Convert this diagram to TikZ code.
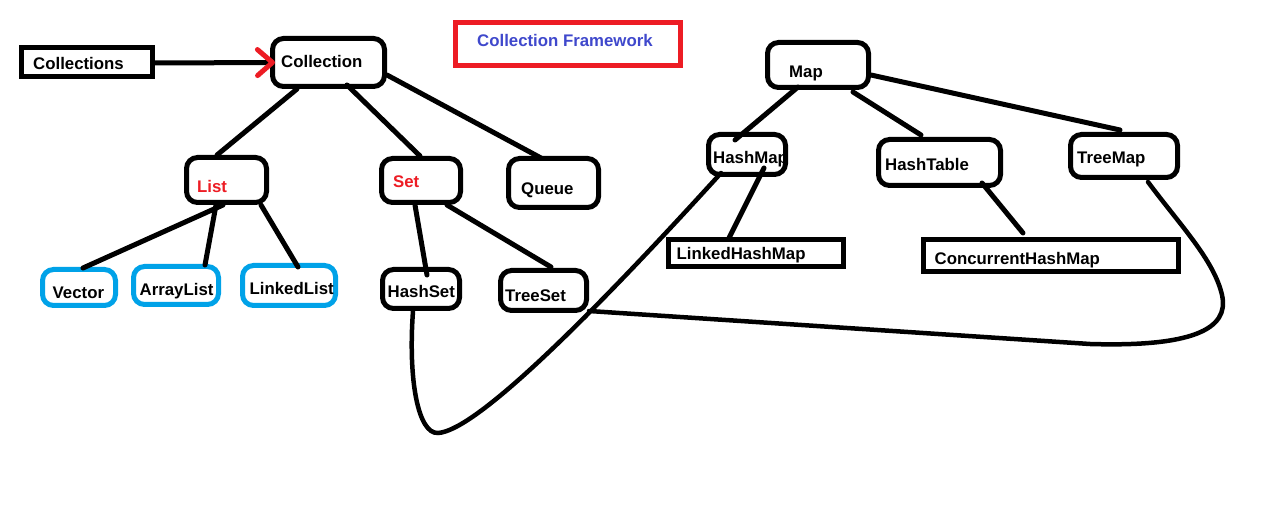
\documentclass[tikz,border=0pt]{standalone}
\usepackage{fontspec}
\setmainfont{Liberation Sans}
\usetikzlibrary{arrows.meta}
\definecolor{pred}{HTML}{ED1C24}
\definecolor{pblue}{HTML}{00A2E8}
\definecolor{pindigo}{HTML}{3F48CC}
\begin{document}
\begin{tikzpicture}[x=1pt,y=-1pt,
  box/.style={draw, line width=5pt, inner sep=0pt},
  rbox/.style={box, rounded corners=11pt},
  bbox/.style={rbox, draw=pblue},
  lbl/.style={anchor=base west, inner sep=0pt, font=\fontsize{16.8}{20}\selectfont\bfseries},
  conn/.style={line width=5pt, line cap=round},
  curve/.style={line width=4.5pt, line cap=round}]
\useasboundingbox[fill=white] (0,0) rectangle (1262,521);
% boxes
\node[box, minimum width=131pt, minimum height=29pt] (collections) at (87,62) {};
\node[rbox, minimum width=112pt, minimum height=48pt] (collection) at (328.5,62.5) {};
\node[box, draw=pred, minimum width=225pt, minimum height=43pt] (title) at (568,44) {};
\node[rbox, minimum width=80pt, minimum height=45pt] (list) at (226.5,180) {};
\node[rbox, minimum width=79pt, minimum height=44pt] (set) at (421,180.5) {};
\node[rbox, minimum width=90pt, minimum height=49pt] (queue) at (553.5,183) {};
\node[bbox, minimum width=73pt, minimum height=36pt] (vector) at (79,287.5) {};
\node[bbox, minimum width=85pt, minimum height=38pt] (arraylist) at (176,285.5) {};
\node[bbox, minimum width=93pt, minimum height=40pt] (linkedlist) at (289,285.5) {};
\node[rbox, minimum width=77pt, minimum height=39pt] (hashset) at (421,289) {};
\node[rbox, minimum width=86pt, minimum height=40pt] (treeset) at (543.5,290.5) {};
\node[rbox, minimum width=101pt, minimum height=45pt] (map) at (818,65) {};
\node[rbox, minimum width=77pt, minimum height=40pt] (hashmap) at (747,154.5) {};
\node[rbox, minimum width=122pt, minimum height=46pt] (hashtable) at (939.5,162.5) {};
\node[rbox, minimum width=107pt, minimum height=43pt] (treemap) at (1124,156) {};
\node[box, minimum width=175pt, minimum height=27pt] (lhm) at (756,253) {};
\node[box, minimum width=255pt, minimum height=32pt] (chm) at (1051,255.5) {};
% labels
\node[lbl] (tcollections) at (33,70) {Collections};
\node[lbl] (tcollection) at (281,67.5) {Collection};
\node[lbl, text=pindigo] (ttitle) at (477,46.7) {Collection Framework};
\node[lbl, text=pred] (tlist) at (197,192.5) {List};
\node[lbl, text=pred] (tset) at (393,188) {Set};
\node[lbl] (tqueue) at (521,195) {Queue};
\node[lbl] (tvector) at (52.5,298.3) {Vector};
\node[lbl] (tarraylist) at (139.5,296) {ArrayList};
\node[lbl] (tlinkedlist) at (249.5,295) {LinkedList};
\node[lbl] (thashset) at (387.5,298) {HashSet};
\node[lbl] (ttreeset) at (505,301.5) {TreeSet};
\node[lbl] (tmap) at (789,77.3) {Map};
\node[lbl] (thashmap) at (713,163.3) {HashMap};
\node[lbl] (thashtable) at (885,170.7) {HashTable};
\node[lbl] (ttreemap) at (1077,163.3) {TreeMap};
\node[lbl] (tlhm) at (676.5,259.3) {LinkedHashMap};
\node[lbl] (tchm) at (934.5,264.3) {ConcurrentHashMap};
% arrow
\draw[line width=5pt, -{Straight Barb[length=15pt,width=26pt,color=pred,line cap=round,line join=round]}]
  ([yshift=-1pt]collections.east) -- ([xshift=5pt]collection.west);
% connectors
\draw[conn] ([xshift=-31.5pt]collection.south) -- ([xshift=-9.5pt]list.north);
\draw[conn] ([xshift=18.5pt,yshift=4pt]collection.south) -- ([xshift=-1pt]set.north);
\draw[conn] ([yshift=-12.5pt]collection.east) -- ([xshift=-12.5pt,yshift=-2pt]queue.north);
\draw[conn] ([xshift=-3.5pt]list.south) -- ([xshift=4pt,yshift=-1pt]vector.north);
\draw[conn] ([xshift=-10.5pt]list.south) -- ([xshift=29pt,yshift=-1pt]arraylist.north);
\draw[conn] ([xshift=34.5pt]list.south) -- ([xshift=9pt,yshift=-4pt]linkedlist.north);
\draw[conn] ([xshift=-6pt]set.south) -- ([xshift=6pt,yshift=-8pt]hashset.north);
\draw[conn] ([xshift=26pt]set.south) -- ([xshift=7.5pt,yshift=1pt]treeset.north);
\draw[conn] ([xshift=-20pt,yshift=3pt]map.south) -- ([xshift=-12pt,yshift=-8pt]hashmap.north);
\draw[conn] ([xshift=35pt,yshift=-2pt]map.south) -- ([xshift=-18.5pt,yshift=2pt]hashtable.north);
\draw[conn] ([yshift=-10pt]map.east) -- ([xshift=-4pt,yshift=2pt]treemap.north);
\draw[conn] ([xshift=17pt,yshift=9pt]hashmap.south) -- ([xshift=-27pt,yshift=-1pt]lhm.north);
\draw[conn] ([xshift=42.5pt,yshift=5pt]hashtable.south) -- ([xshift=-28pt,yshift=4pt]chm.north);
% curves
\draw[curve] ([xshift=-8pt]hashset.south) .. controls (408,380) and (418,434) .. (438,433)
  .. controls (470,431) and (560,350) .. ([xshift=-26pt,yshift=4pt]hashmap.south);
\draw[curve] ([yshift=2pt]treeset.south east) -- (1090,344) .. controls (1190,347) and (1230,330) .. (1222,295)
  .. controls (1214,260) and (1180,225) .. ([xshift=24pt,yshift=-2pt]treemap.south);
\end{tikzpicture}
\end{document}
